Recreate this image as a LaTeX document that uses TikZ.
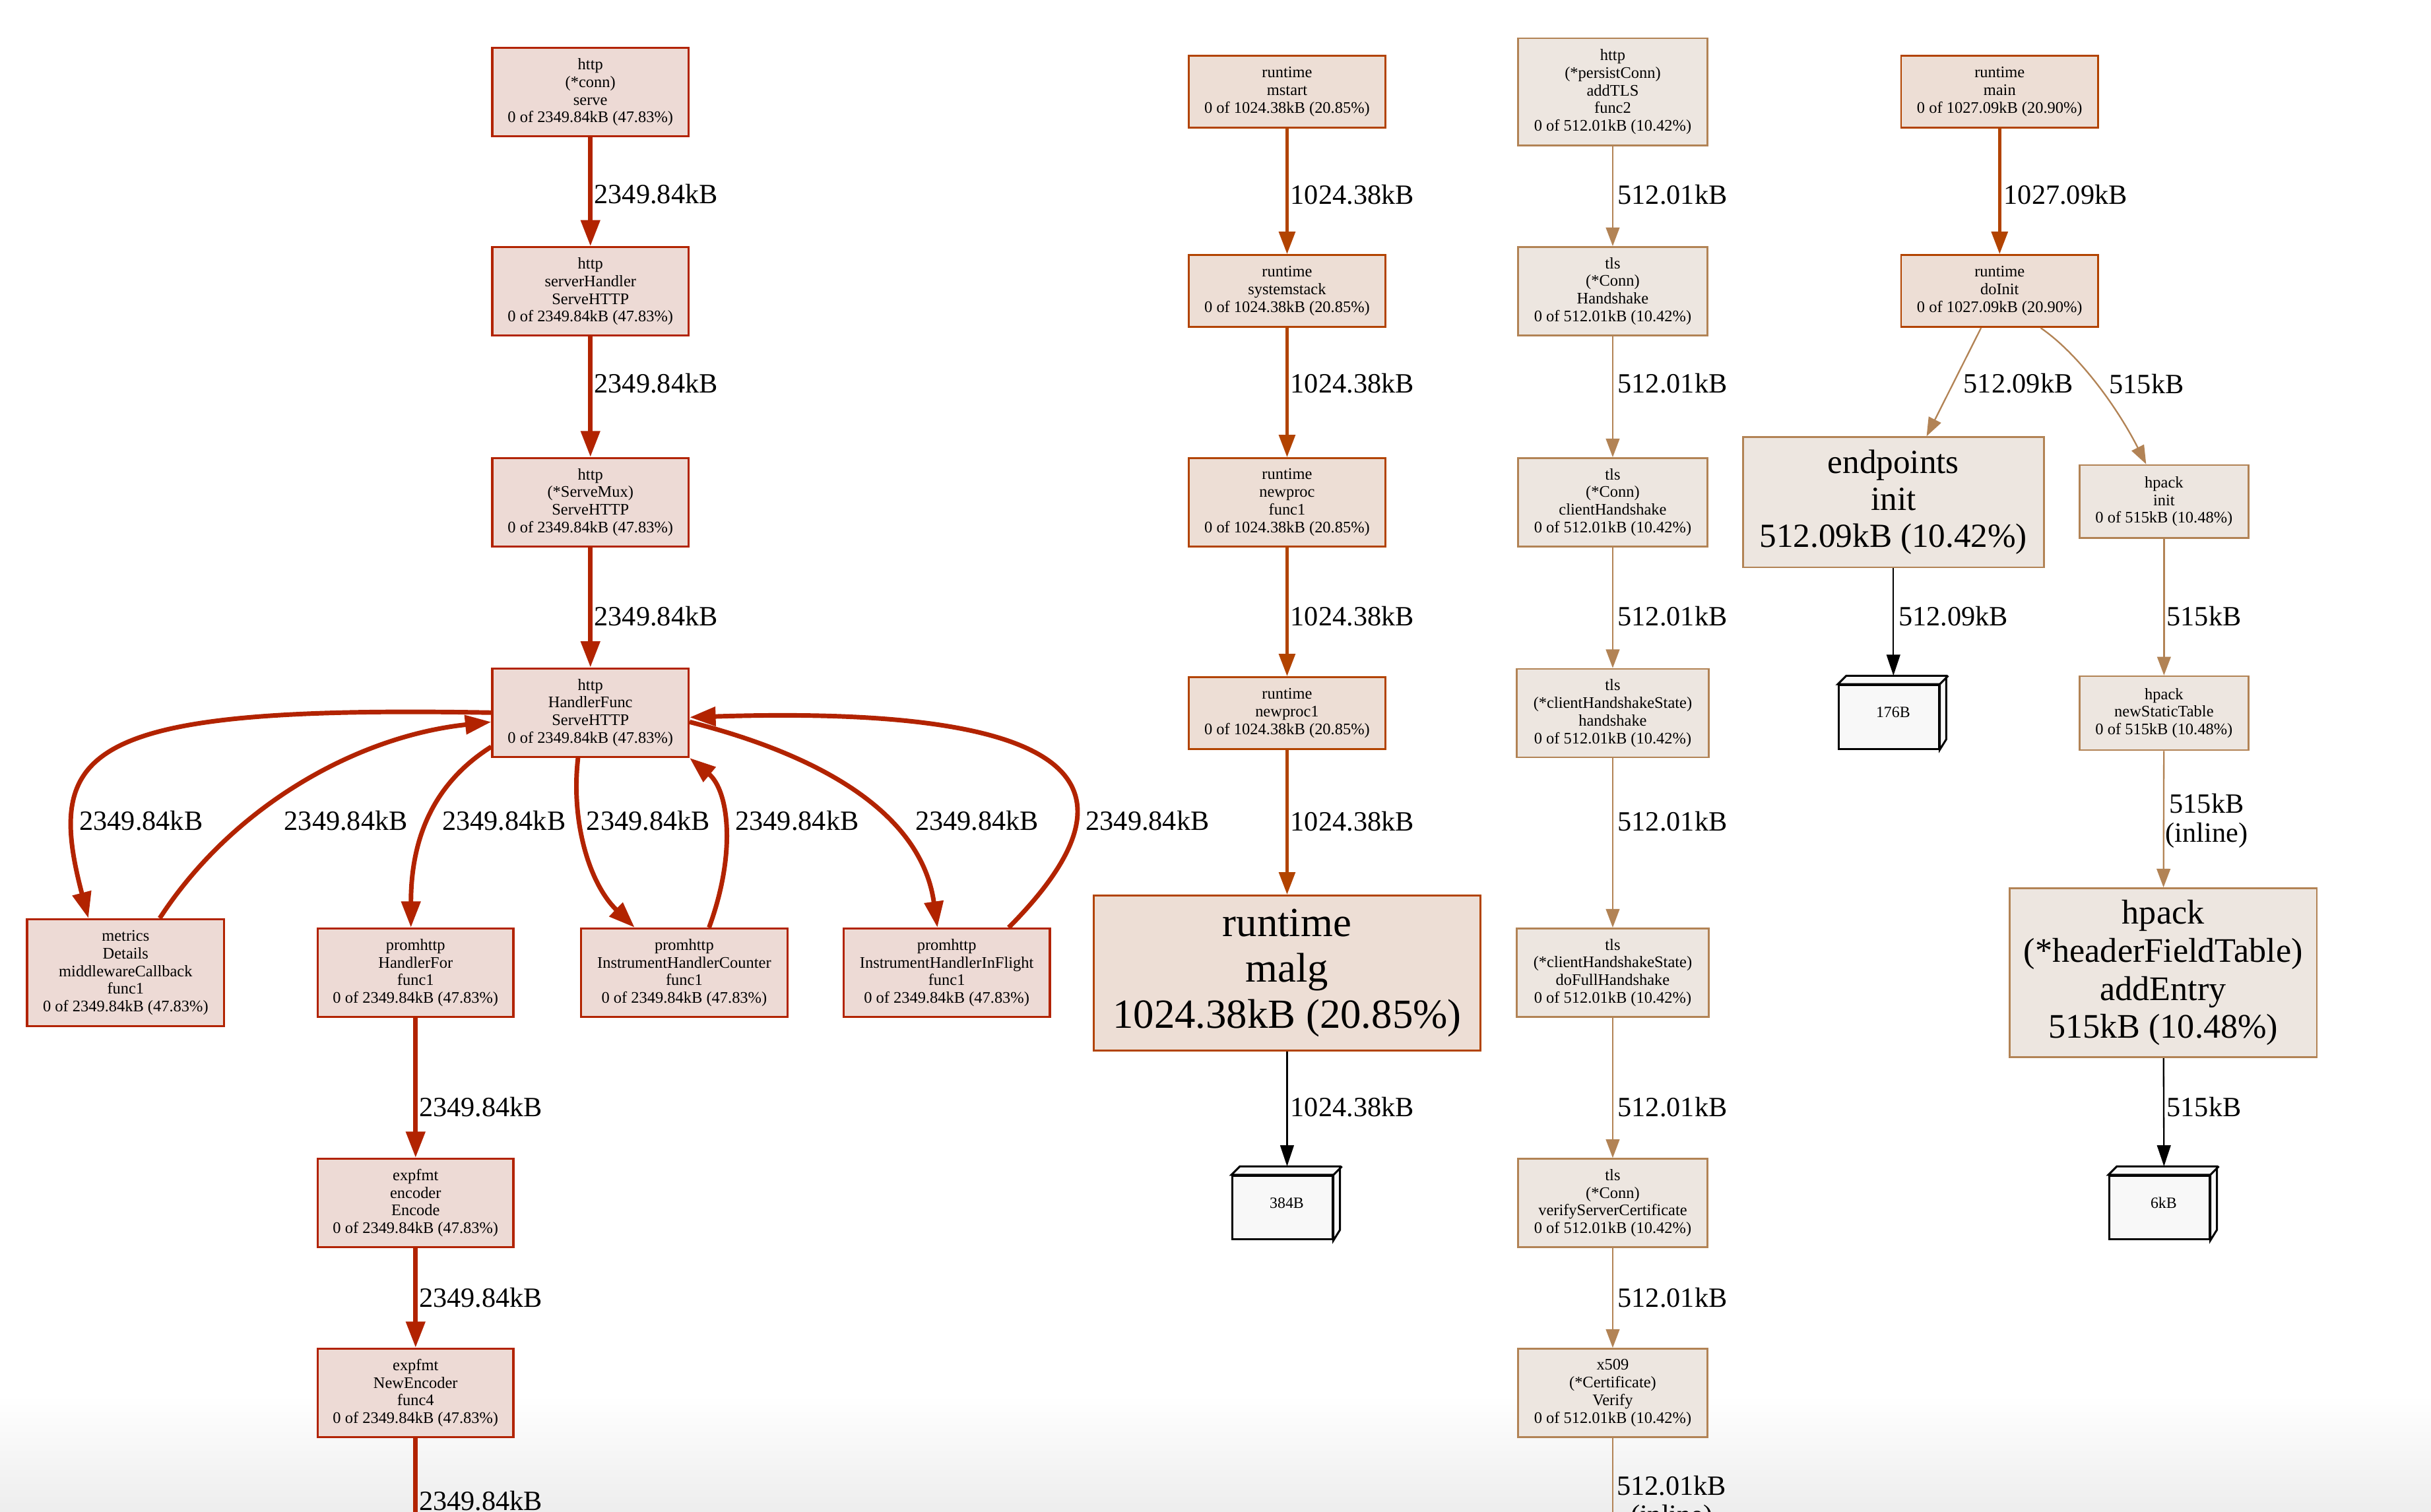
\documentclass[tikz,border=0pt]{standalone}
\usepackage{fontspec}
\setmainfont{Liberation Serif}
\usetikzlibrary{arrows.meta}
\definecolor{hotfg}{HTML}{B22300}
\definecolor{hotbg}{HTML}{EDDAD5}
\definecolor{warmfg}{HTML}{B24300}
\definecolor{warmbg}{HTML}{EDDED5}
\definecolor{tanfg}{HTML}{B28355}
\definecolor{tanbg}{HTML}{EDE6E0}
\definecolor{cubebg}{HTML}{F8F8F8}
\newcommand\smallf{\fontsize{7.4}{8.1}\selectfont}
\newcommand\lblf{\fontsize{12.8}{14.2}\selectfont}
\tikzset{
  fn/.style={rectangle, draw, align=center, inner sep=0pt, font=\smallf, text=black},
  hotbox/.style={fn, draw=hotfg, fill=hotbg, line width=1pt},
  warmbox/.style={fn, draw=warmfg, fill=warmbg, line width=0.85pt},
  tanbox/.style={fn, draw=tanfg, fill=tanbg, line width=0.8pt},
  cubebox/.style={rectangle, draw=black, fill=cubebg, line width=0.9pt, inner sep=0pt,
    font=\fontsize{7.2}{8}\selectfont, minimum width=1.6125cm, minimum height=1.025cm},
  ehot/.style={draw=hotfg, color=hotfg, line width=2.1pt, -{Triangle[length=0.42cm,width=0.3cm]}},
  ewarm/.style={draw=warmfg, color=warmfg, line width=1.4pt, -{Triangle[length=0.36cm,width=0.26cm]}},
  etan/.style={draw=tanfg, color=tanfg, line width=0.7pt, -{Triangle[length=0.3cm,width=0.22cm]}},
  eblk/.style={draw=black, color=black, line width=0.7pt, -{Triangle[length=0.34cm,width=0.22cm]}},
  lbl/.style={anchor=west, inner sep=0pt, font=\lblf, text=black},
  lblc/.style={anchor=center, inner sep=0pt, font=\fontsize{12.8}{13.6}\selectfont, align=center, text=black},
}
\newcommand\cubeat[3]{%
  \node[cubebox] (#1) at (#2) {\raisebox{0.15cm}{\hspace*{0.14cm}#3}};
  \draw[line width=0.9pt, fill=cubebg] (#1.north west) -- ++(5.5,-5.5) -- ++(64.5,0) -- ++(0,41) -- (#1.south east) -- (#1.north east) -- cycle;
  \draw[line width=0.9pt] (#1.north east) -- ++(5.5,-5.5);
}
\begin{document}
\begin{tikzpicture}[x=0.025cm, y=-0.025cm]
\useasboundingbox (0,0) rectangle (1567.7,975.3);
\clip (0,0) rectangle (1567.7,975.3);
\fill[white] (0,0) rectangle (1567.7,975.3);
\shade[top color=white, bottom color=gray!14] (0,900) rectangle (1567.7,975.3);

% ---------- column 1 ----------
\node[hotbox, minimum width=3.1625cm, minimum height=1.425cm] (n1) at (380.75,59.5) {http\\(*conn)\\serve\\0 of 2349.84kB (47.83\%)};
\node[hotbox, minimum width=3.1625cm, minimum height=1.425cm] (n2) at (380.75,188) {http\\serverHandler\\ServeHTTP\\0 of 2349.84kB (47.83\%)};
\node[hotbox, minimum width=3.1625cm, minimum height=1.425cm] (n3) at (380.75,324) {http\\(*ServeMux)\\ServeHTTP\\0 of 2349.84kB (47.83\%)};
\node[hotbox, minimum width=3.1625cm, minimum height=1.425cm] (n4) at (380.75,459.7) {http\\HandlerFunc\\ServeHTTP\\0 of 2349.84kB (47.83\%)};
\node[hotbox, minimum width=3.175cm, minimum height=1.725cm] (n5) at (81,627.5) {metrics\\Details\\middlewareCallback\\func1\\0 of 2349.84kB (47.83\%)};
\node[hotbox, minimum width=3.15cm, minimum height=1.425cm] (n6) at (268,627.5) {promhttp\\HandlerFor\\func1\\0 of 2349.84kB (47.83\%)};
\node[hotbox, minimum width=3.325cm, minimum height=1.425cm] (n7) at (441.25,627.5) {promhttp\\InstrumentHandlerCounter\\func1\\0 of 2349.84kB (47.83\%)};
\node[hotbox, minimum width=3.325cm, minimum height=1.425cm] (n8) at (610.5,627.5) {promhttp\\InstrumentHandlerInFlight\\func1\\0 of 2349.84kB (47.83\%)};
\node[hotbox, minimum width=3.15cm, minimum height=1.425cm] (n9) at (268,776) {expfmt\\encoder\\Encode\\0 of 2349.84kB (47.83\%)};
\node[hotbox, minimum width=3.15cm, minimum height=1.425cm] (n10) at (268,898.5) {expfmt\\NewEncoder\\func4\\0 of 2349.84kB (47.83\%)};
\coordinate (offL) at (268,1010);

\draw[ehot] (n1) -- (n2);
\draw[ehot] (n2) -- (n3);
\draw[ehot] (n3) -- (n4);
\draw[ehot] (n4.west) .. controls (55,455) and (28,482) .. ([xshift=-0.6cm]n5.north);
\draw[ehot] ([xshift=0.55cm]n5.north) .. controls (150,520) and (230,475) .. ([yshift=-0.15cm]n4.west);
\draw[ehot] ([yshift=-0.55cm]n4.west) .. controls (280,505) and (265,540) .. ([xshift=-0.075cm]n6.north);
\draw[ehot] ([xshift=-0.2cm]n4.south) .. controls (368,530) and (380,570) .. ([xshift=-0.8cm]n7.north);
\draw[ehot] ([xshift=0.4cm]n7.north) .. controls (475,550) and (470,510) .. (n4.south east);
\draw[ehot] ([yshift=-0.15cm]n4.east) .. controls (540,490) and (595,530) .. ([xshift=-0.15cm]n8.north);
\draw[ehot] ([xshift=1.0cm]n8.north) .. controls (748,500) and (685,455) .. ([yshift=-0.075cm]n4.east);
\draw[ehot] (n6) -- (n9);
\draw[ehot] (n9) -- (n10);
\draw[ehot] (n10) -- (offL);

\node[lbl] (l1) at (383,125) {2349.84kB};
\node[lbl] (l2) at (383,247.5) {2349.84kB};
\node[lbl] (l3) at (383,397.3) {2349.84kB};
\node[lbl] (l4) at (51,529.6) {2349.84kB};
\node[lbl] (l5) at (183,529.6) {2349.84kB};
\node[lbl] (l6) at (285,529.6) {2349.84kB};
\node[lbl] (l7) at (378,529.6) {2349.84kB};
\node[lbl] (l8) at (474,529.6) {2349.84kB};
\node[lbl] (l9) at (590,529.6) {2349.84kB};
\node[lbl] (l10) at (700,529.6) {2349.84kB};
\node[lbl] (l11) at (270,714) {2349.84kB};
\node[lbl] (l12) at (270,837) {2349.84kB};
\node[lbl] (l13) at (270,968) {2349.84kB};

% ---------- column 2 ----------
\node[warmbox, minimum width=3.175cm, minimum height=1.1625cm] (m1) at (830,59.2) {runtime\\mstart\\0 of 1024.38kB (20.85\%)};
\node[warmbox, minimum width=3.175cm, minimum height=1.1625cm] (m2) at (830,187.7) {runtime\\systemstack\\0 of 1024.38kB (20.85\%)};
\node[warmbox, minimum width=3.175cm, minimum height=1.425cm] (m3) at (830,324) {runtime\\newproc\\func1\\0 of 1024.38kB (20.85\%)};
\node[warmbox, minimum width=3.175cm, minimum height=1.1625cm] (m4) at (830,460) {runtime\\newproc1\\0 of 1024.38kB (20.85\%)};
\node[warmbox, minimum width=6.225cm, minimum height=2.5cm, font=\fontsize{19}{21}\selectfont] (m5) at (830,627.6) {runtime\\malg\\1024.38kB (20.85\%)};
\cubeat{m6}{827,779}{384B}

\draw[ewarm] (m1) -- (m2);
\draw[ewarm] (m2) -- (m3);
\draw[ewarm] (m3) -- (m4);
\draw[ewarm] (m4) -- (m5);
\draw[eblk] (m5) -- ([shift={(3,-5.5)}]m6.north);

\node[lbl] (k1) at (832,125.4) {1024.38kB};
\node[lbl] (k2) at (832,247.5) {1024.38kB};
\node[lbl] (k3) at (832,397.3) {1024.38kB};
\node[lbl] (k4) at (832,529.7) {1024.38kB};
\node[lbl] (k5) at (832,714) {1024.38kB};

% ---------- column 3 ----------
\node[tanbox, minimum width=3.05cm, minimum height=1.725cm] (t1) at (1040,59.2) {http\\(*persistConn)\\addTLS\\func2\\0 of 512.01kB (10.42\%)};
\node[tanbox, minimum width=3.05cm, minimum height=1.425cm] (t2) at (1040,187.8) {tls\\(*Conn)\\Handshake\\0 of 512.01kB (10.42\%)};
\node[tanbox, minimum width=3.05cm, minimum height=1.425cm] (t3) at (1040,324) {tls\\(*Conn)\\clientHandshake\\0 of 512.01kB (10.42\%)};
\node[tanbox, minimum width=3.1cm, minimum height=1.425cm] (t4) at (1040,460) {tls\\(*clientHandshakeState)\\handshake\\0 of 512.01kB (10.42\%)};
\node[tanbox, minimum width=3.1cm, minimum height=1.425cm] (t5) at (1040,627.4) {tls\\(*clientHandshakeState)\\doFullHandshake\\0 of 512.01kB (10.42\%)};
\node[tanbox, minimum width=3.05cm, minimum height=1.425cm] (t6) at (1040,776) {tls\\(*Conn)\\verifyServerCertificate\\0 of 512.01kB (10.42\%)};
\node[tanbox, minimum width=3.05cm, minimum height=1.425cm] (t7) at (1040,898.5) {x509\\(*Certificate)\\Verify\\0 of 512.01kB (10.42\%)};
\coordinate (offR) at (1040,1010);

\draw[etan] (t1) -- (t2);
\draw[etan] (t2) -- (t3);
\draw[etan] (t3) -- (t4);
\draw[etan] (t4) -- (t5);
\draw[etan] (t5) -- (t6);
\draw[etan] (t6) -- (t7);
\draw[etan] (t7) -- (offR);

\node[lbl] (s1) at (1043,125.4) {512.01kB};
\node[lbl] (s2) at (1043,247.5) {512.01kB};
\node[lbl] (s3) at (1043,397.3) {512.01kB};
\node[lbl] (s4) at (1043,529.7) {512.01kB};
\node[lbl] (s5) at (1043,714) {512.01kB};
\node[lbl] (s6) at (1043,837) {512.01kB};
\node[lblc] (s7) at (1078,969.5) {512.01kB\\(inline)};

% ---------- column 4 ----------
\node[warmbox, minimum width=3.175cm, minimum height=1.1625cm] (r1) at (1289.5,59.2) {runtime\\main\\0 of 1027.09kB (20.90\%)};
\node[warmbox, minimum width=3.175cm, minimum height=1.1625cm] (r2) at (1289.5,187.7) {runtime\\doInit\\0 of 1027.09kB (20.90\%)};
\node[tanbox, minimum width=4.85cm, minimum height=2.1cm, font=\fontsize{15.5}{17}\selectfont] (e1) at (1221,324) {endpoints\\init\\512.09kB (10.42\%)};
\node[tanbox, minimum width=2.725cm, minimum height=1.175cm] (h1) at (1395.5,323.5) {hpack\\init\\0 of 515kB (10.48\%)};
\cubeat{b1}{1218,462.5}{176B}
\node[tanbox, minimum width=2.725cm, minimum height=1.19cm] (h2) at (1395.5,460) {hpack\\newStaticTable\\0 of 515kB (10.48\%)};
\node[tanbox, minimum width=4.95cm, minimum height=2.725cm, font=\fontsize{15.8}{17.5}\selectfont] (h3) at (1395,627.5) {hpack\\(*headerFieldTable)\\addEntry\\515kB (10.48\%)};
\cubeat{b2}{1392.5,779}{6kB}

\draw[ewarm] (r1) -- (r2);
\draw[etan] (r2) -- (e1);
\draw[etan] ([xshift=0.6625cm]r2.south) .. controls (1340,228) and (1365,262) .. ([xshift=-0.2875cm]h1.north);
\draw[eblk] (e1) -- ([shift={(3,-5.5)}]b1.north);
\draw[etan] (h1) -- (h2);
\draw[etan] (h2) -- (h3);
\draw[eblk] (h3) -- ([shift={(3,-5.5)}]b2.north);

\node[lbl] (q1) at (1292,125.4) {1027.09kB};
\node[lbl] (q2) at (1266,247.5) {512.09kB};
\node[lbl] (q3) at (1360,247.5) {515kB};
\node[lbl] (q4) at (1224,397.3) {512.09kB};
\node[lbl] (q5) at (1397,397.3) {515kB};
\node[lblc] (q6) at (1423,529.5) {515kB\\(inline)};
\node[lbl] (q7) at (1397,714) {515kB};
\end{tikzpicture}
\end{document}
